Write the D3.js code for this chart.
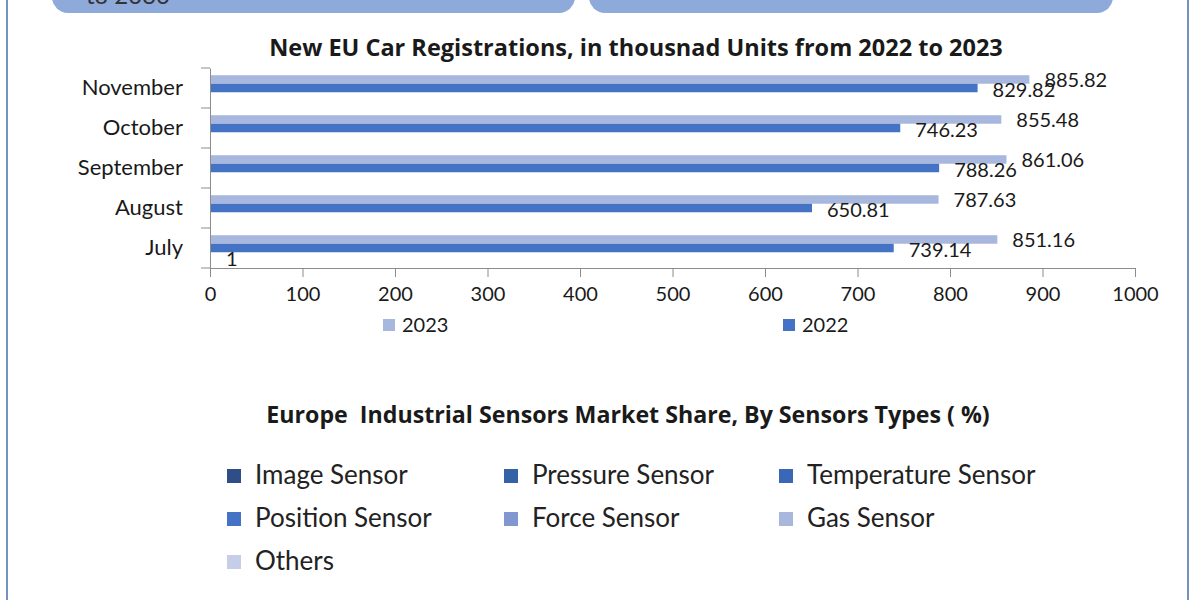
<!DOCTYPE html>
<html>
<head>
<meta charset="utf-8">
<script src="https://cdn.jsdelivr.net/npm/d3@7"></script>
<style>
  html, body { margin: 0; padding: 0; background: #fff; }
  #container { width: 1200px; height: 600px; }
  text { font-family: Lato, "Open Sans", sans-serif; fill: #1a1a1a; }
  .title { font-family: "Open Sans", Lato, sans-serif; font-weight: bold; }
</style>
</head>
<body>
<div id="container"></div>
<script>
// bar chart data (top chart)
const months = ['November', 'October', 'September', 'August', 'July'];
const series = ['2023', '2022', 'extra'];
const values2023 = [885.82, 855.48, 861.06, 787.63, 851.16];
const values2022 = [829.82, 746.23, 788.26, 650.81, 739.14];
const valuesExtra = [null, null, null, null, 1];
const xTicks = [0, 100, 200, 300, 400, 500, 600, 700, 800, 900, 1000];

// legend-only chart (bottom)
const sensorTypes = [
    'Image Sensor', 'Pressure Sensor', 'Temperature Sensor',
    'Position Sensor', 'Force Sensor', 'Gas Sensor',
    'Others'
];
const sensorColors = ['#2f4e88', '#3561a6', '#3b68b6', '#4472c4', '#8098cf', '#a9b6dd', '#c6cee7'];

const seriesColors = { '2023': '#a8b7dd', '2022': '#4472c4', 'extra': '#2f5597' };
const axisColor = '#8c8c8c';

let svg = null;
let x = null;
let y = null;
let ySub = null;

function init() {
    svg = d3.select('#container').append('svg')
        .attr('width', 1200)
        .attr('height', 600);

    drawFrame();
    drawBarChart();
    drawSensorLegend();
}

function drawFrame() {
    // header pills, cut off at the top edge
    const pills = [[52, 575], [589, 1113]];
    svg.append('g')
        .selectAll('rect')
        .data(pills)
        .enter()
        .append('rect')
        .attr('x', d => d[0])
        .attr('y', -40)
        .attr('width', d => d[1] - d[0])
        .attr('height', 53)
        .attr('rx', 16)
        .attr('fill', '#8eaadb');
    svg.append('text')
        .attr('x', 86)
        .attr('y', 4)
        .style('font-size', '24px')
        .style('fill', '#333')
        .text('to 2030');

    svg.append('line')
        .attr('x1', 7).attr('x2', 7)
        .attr('y1', 0).attr('y2', 600)
        .attr('stroke', '#7491c4')
        .attr('stroke-width', 2);
    svg.append('line')
        .attr('x1', 1188).attr('x2', 1188)
        .attr('y1', 0).attr('y2', 600)
        .attr('stroke', '#7491c4')
        .attr('stroke-width', 2);
}

function drawBarChart() {
    x = d3.scaleLinear().domain([0, 1000]).range([210, 1135]);
    y = d3.scaleBand().domain(months).range([68, 268]);
    ySub = d3.scaleBand().domain(series).range([0, y.bandwidth()]).paddingOuter(0.85);

    svg.append('text')
        .attr('class', 'title')
        .attr('x', 636)
        .attr('y', 56)
        .attr('text-anchor', 'middle')
        .style('font-size', '23.5px')
        .text('New EU Car Registrations, in thousnad Units from 2022 to 2023');

    const rows = months.map((m, i) => ({
        month: m,
        '2023': values2023[i],
        '2022': values2022[i],
        'extra': valuesExtra[i]
    }));
    const bars = [];
    rows.forEach(r => series.forEach(s => {
        if (r[s] != null) bars.push({ month: r.month, key: s, value: r[s] });
    }));

    const g = svg.append('g');
    g.selectAll('rect')
        .data(bars)
        .enter()
        .append('rect')
        .attr('x', x(0))
        .attr('y', d => y(d.month) + ySub(d.key))
        .attr('width', d => Math.max(1, x(d.value) - x(0)))
        .attr('height', ySub.bandwidth())
        .attr('fill', d => seriesColors[d.key]);

    g.selectAll('text')
        .data(bars)
        .enter()
        .append('text')
        .attr('x', d => x(d.value) + 15)
        .attr('y', d => y(d.month) + ySub(d.key) + ySub.bandwidth() / 2 + (d.key === '2023' ? 0 : 2))
        .attr('dy', '0.36em')
        .style('font-size', '20px')
        .text(d => d.value);

    // x axis
    const xAxis = svg.append('g')
        .attr('transform', 'translate(0,268)')
        .call(d3.axisBottom(x).tickValues(xTicks).tickFormat(d3.format('d'))
            .tickSize(9).tickSizeOuter(0).tickPadding(10));
    xAxis.select('.domain').attr('stroke', axisColor);
    xAxis.selectAll('.tick line').attr('stroke', axisColor);
    xAxis.selectAll('.tick text')
        .style('font-family', 'Lato, sans-serif')
        .style('font-size', '20px')
        .attr('fill', '#1a1a1a');

    // y axis, ticks sit between the categories
    const yAxis = svg.append('g')
        .attr('transform', 'translate(210,0)')
        .call(d3.axisLeft(y).tickSize(0).tickPadding(27));
    yAxis.select('.domain').attr('stroke', axisColor);
    yAxis.selectAll('.tick text')
        .style('font-family', 'Lato, sans-serif')
        .style('font-size', '22px')
        .attr('fill', '#1a1a1a');
    const bounds = months.map(m => y(m)).concat([y.range()[1]]);
    yAxis.selectAll('.sep')
        .data(bounds)
        .enter()
        .append('line')
        .attr('x1', -9).attr('x2', 0)
        .attr('y1', d => d).attr('y2', d => d)
        .attr('stroke', axisColor);

    // legend
    const legendItems = [{ key: '2023', x: 383 }, { key: '2022', x: 783 }];
    const lg = svg.append('g')
        .selectAll('g')
        .data(legendItems)
        .enter()
        .append('g')
        .attr('transform', d => `translate(${d.x},319)`);
    lg.append('rect')
        .attr('width', 12)
        .attr('height', 12)
        .attr('fill', d => seriesColors[d.key]);
    lg.append('text')
        .attr('x', 19)
        .attr('y', 12.5)
        .style('font-size', '20px')
        .text(d => d.key);
}

function drawSensorLegend() {
    svg.append('text')
        .attr('class', 'title')
        .attr('x', 628)
        .attr('y', 423)
        .attr('text-anchor', 'middle')
        .style('font-size', '23.2px')
        .style('white-space', 'pre')
        .text('Europe  Industrial Sensors Market Share, By Sensors Types ( %)');

    const colX = [227, 504, 779];
    const rowY = [469, 512, 555];
    const items = svg.append('g')
        .selectAll('g')
        .data(sensorTypes)
        .enter()
        .append('g')
        .attr('transform', (d, i) => `translate(${colX[i % 3]},${rowY[Math.floor(i / 3)]})`);
    items.append('rect')
        .attr('width', 14)
        .attr('height', 14)
        .attr('fill', (d, i) => sensorColors[i]);
    items.append('text')
        .attr('x', 28)
        .attr('y', 15)
        .style('font-size', '26px')
        .style('fill', '#222')
        .text(d => d);
}

init();
</script>
</body>
</html>
